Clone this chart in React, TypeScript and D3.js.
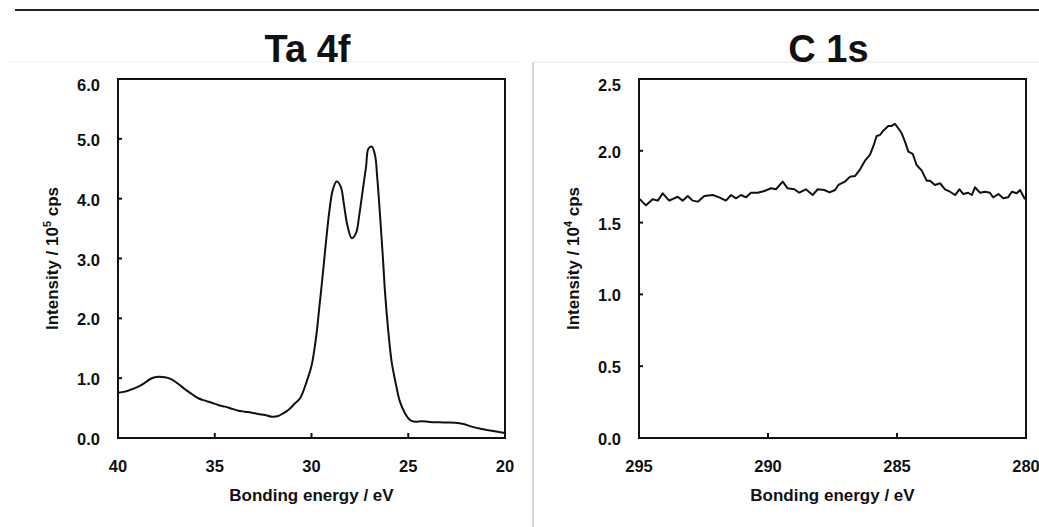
import React from 'react';
import * as d3 from 'd3';

// ---------- Data ----------
const taEnergy = [40, 39.64, 39.29, 38.95, 38.6, 38.26, 37.92, 37.57, 37.23, 36.88, 36.54, 36.19, 35.85, 35.5, 35.16, 34.82, 34.47, 34.12, 33.78, 33.44, 33.09, 32.75, 32.4, 32.06, 31.72, 31.46, 31.2, 30.85, 30.59, 30.25, 29.99, 29.77, 29.6, 29.42, 29.25, 29.08, 28.9, 28.7, 28.49, 28.32, 28.15, 27.92, 27.7, 27.53, 27.35, 27.18, 27.06, 26.89, 26.72, 26.6, 26.46, 26.32, 26.19, 26.03, 25.86, 25.63, 25.43, 25.17, 24.91, 24.65, 24.3, 23.9, 23.4, 23.0, 22.58, 22.15, 21.72, 21.2, 20.69, 20.09, 20.0];
const taIntensity = [0.758, 0.775, 0.814, 0.858, 0.925, 0.998, 1.025, 1.015, 0.981, 0.903, 0.814, 0.736, 0.664, 0.624, 0.59, 0.552, 0.524, 0.49, 0.457, 0.44, 0.423, 0.401, 0.385, 0.357, 0.368, 0.413, 0.468, 0.58, 0.664, 0.942, 1.22, 1.667, 2.169, 2.726, 3.283, 3.784, 4.147, 4.286, 4.202, 3.896, 3.562, 3.339, 3.423, 3.729, 4.147, 4.537, 4.833, 4.871, 4.732, 4.343, 3.729, 3.06, 2.391, 1.778, 1.276, 0.886, 0.607, 0.413, 0.301, 0.273, 0.28, 0.268, 0.262, 0.26, 0.256, 0.234, 0.19, 0.15, 0.122, 0.089, 0.085];

const cEnergy = [295.0, 294.73, 294.47, 294.27, 294.08, 293.83, 293.5, 293.31, 293.11, 292.92, 292.72, 292.47, 292.14, 291.89, 291.63, 291.43, 291.24, 291.05, 290.85, 290.66, 290.4, 290.14, 289.88, 289.69, 289.43, 289.24, 288.98, 288.79, 288.53, 288.27, 288.07, 287.82, 287.61, 287.4, 287.27, 287.02, 286.82, 286.63, 286.43, 286.24, 286.05, 285.92, 285.79, 285.66, 285.53, 285.34, 285.21, 285.08, 284.95, 284.82, 284.69, 284.56, 284.39, 284.24, 284.04, 283.85, 283.72, 283.53, 283.33, 283.14, 282.95, 282.75, 282.58, 282.43, 282.24, 282.1, 281.98, 281.78, 281.59, 281.4, 281.27, 281.07, 280.88, 280.69, 280.55, 280.36, 280.23, 280.13, 280.04];
const cIntensity = [1.669, 1.62, 1.662, 1.653, 1.704, 1.653, 1.68, 1.653, 1.685, 1.653, 1.646, 1.685, 1.692, 1.676, 1.653, 1.692, 1.669, 1.692, 1.676, 1.708, 1.708, 1.72, 1.739, 1.732, 1.785, 1.739, 1.732, 1.708, 1.732, 1.692, 1.732, 1.727, 1.71, 1.727, 1.762, 1.785, 1.82, 1.824, 1.871, 1.931, 1.971, 2.03, 2.103, 2.11, 2.14, 2.173, 2.173, 2.187, 2.157, 2.122, 2.064, 1.994, 1.978, 1.901, 1.862, 1.792, 1.792, 1.762, 1.774, 1.732, 1.715, 1.692, 1.732, 1.699, 1.708, 1.692, 1.746, 1.708, 1.715, 1.708, 1.676, 1.699, 1.669, 1.676, 1.715, 1.704, 1.727, 1.692, 1.662];

const taXTicks = [40, 35, 30, 25, 20];
const taYTicks = [0, 1, 2, 3, 4, 5, 6];
const cXTicks = [295, 290, 285, 280];
const cYTicks = [0, 0.5, 1, 1.5, 2, 2.5];

const titles = ['Ta 4f', 'C 1s'];
const exponents = ['5', '4'];
const xLabel = 'Bonding energy / eV';

const FONT = '"Liberation Sans", Arial, Helvetica, sans-serif';
const INK = '#111';

type PanelProps = {
  left: number; right: number; top: number; bottom: number;
  xDomain: [number, number]; yDomain: [number, number];
  energy: number[]; intensity: number[];
  xTicks: number[]; yTicks: number[];
  title: string; exponent: string;
  smooth: boolean;
};

function Panel(p: PanelProps) {
  const x = d3.scaleLinear().domain(p.xDomain).range([p.left, p.right]);
  const y = d3.scaleLinear().domain(p.yDomain).range([p.bottom, p.top]);
  const pts = p.energy.map((e, i) => [e, p.intensity[i]] as [number, number]);
  const line = d3.line<[number, number]>()
    .x(d => x(d[0]))
    .y(d => y(d[1]))
    .curve(p.smooth ? d3.curveCatmullRom.alpha(0.5) : d3.curveLinear);
  const cx = (p.left + p.right) / 2;
  const cy = (p.top + p.bottom) / 2;
  const yMax = p.yDomain[1];
  return (
    <g fontFamily={FONT} fill={INK}>
      <text x={cx - 4} y={62} fontSize={38} fontWeight="bold" textAnchor="middle">{p.title}</text>
      <path d={line(pts) || ''} fill="none" stroke={INK} strokeWidth={2} strokeLinejoin="round" />
      <rect x={p.left} y={p.top} width={p.right - p.left} height={p.bottom - p.top} fill="none" stroke={INK} strokeWidth={2} />
      {p.yTicks.map(t => (
        <g key={'y' + t}>
          <line x1={p.left} x2={p.left + 4} y1={y(t)} y2={y(t)} stroke={INK} strokeWidth={2} />
          <text x={p.left - 18} y={y(t) + (t === yMax ? 6 : 1)} fontSize={16.5} fontWeight="bold" textAnchor="end" dominantBaseline="central">{t.toFixed(1)}</text>
        </g>
      ))}
      {p.xTicks.map(t => (
        <g key={'x' + t}>
          <line x1={x(t)} x2={x(t)} y1={p.bottom} y2={p.bottom - 5} stroke={INK} strokeWidth={2} />
          <text x={x(t)} y={p.bottom + 34} fontSize={16.5} fontWeight="bold" textAnchor="middle">{t}</text>
        </g>
      ))}
      <text x={cx} y={501} fontSize={17} fontWeight="bold" textAnchor="middle">{xLabel}</text>
      <text transform={`translate(${p.left - 60},${cy}) rotate(-90)`} fontSize={17} fontWeight="bold" textAnchor="middle">
        Intensity / 10<tspan fontSize={11} dy={-7}>{p.exponent}</tspan><tspan dy={7}> cps</tspan>
      </text>
    </g>
  );
}

export default function App() {
  return (
    <svg width={1039} height={527} style={{ position: 'absolute', left: 0, top: 0, background: '#fff' }}>
      <rect x={0} y={0} width={1039} height={527} fill="#fff" />
      <line x1={15} x2={1039} y1={10} y2={10} stroke="#222" strokeWidth={2} />
      <line x1={8} x2={520} y1={62} y2={62} stroke="#f2f2f2" strokeWidth={1} />
      <line x1={533} x2={1039} y1={62} y2={62} stroke="#e4e4e4" strokeWidth={1} />
      <line x1={533} x2={533} y1={62} y2={527} stroke="#aaa" strokeWidth={1} />
      <Panel left={118} right={505} top={79} bottom={438} xDomain={[40, 20]} yDomain={[0, 6]}
        energy={taEnergy} intensity={taIntensity} xTicks={taXTicks} yTicks={taYTicks}
        title={titles[0]} exponent={exponents[0]} smooth={true} />
      <Panel left={639} right={1026} top={79} bottom={438} xDomain={[295, 280]} yDomain={[0, 2.5]}
        energy={cEnergy} intensity={cIntensity} xTicks={cXTicks} yTicks={cYTicks}
        title={titles[1]} exponent={exponents[1]} smooth={false} />
    </svg>
  );
}
